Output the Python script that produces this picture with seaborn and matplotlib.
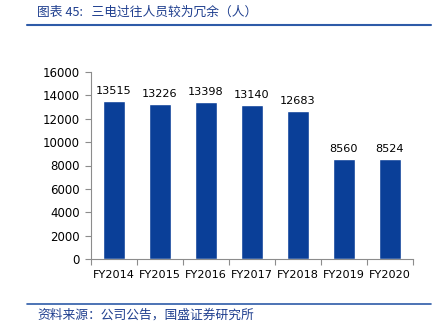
import matplotlib
matplotlib.use("Agg")
import matplotlib.pyplot as plt
import seaborn as sns
import pandas as pd
import numpy as np

years = ["FY2014", "FY2015", "FY2016", "FY2017", "FY2018", "FY2019", "FY2020"]
staff = [13515, 13226, 13398, 13140, 12683, 8560, 8524]
yticks = [0, 2000, 4000, 6000, 8000, 10000, 12000, 14000, 16000]

title_text = "图表 45:   三电过往人员较为冗余（人）"
source_text = "资料来源：公司公告，国盛证券研究所"

sns.set_theme(style="white")
plt.rcParams["font.family"] = ["DejaVu Sans", "Noto Sans CJK SC"]

bar_color = "#0A3F98"
text_blue = "#1F3F8F"

df = pd.DataFrame({"year": years, "staff": staff})

fig = plt.figure(figsize=(4.38, 3.25), dpi=100)
ax = fig.add_axes([91 / 438, 1 - 259 / 325, (413 - 91) / 438, (259 - 72) / 325])

sns.barplot(data=df, x="year", y="staff", color=bar_color, saturation=1,
            width=0.48, ax=ax)

ax.set_ylim(0, 16000)
ax.set_xlim(-0.5, len(years) - 0.5)
ax.set_yticks(yticks)
ax.set_yticklabels([str(v) for v in yticks])
ax.set_xlabel("")
ax.set_ylabel("")

for spine in ["top", "right"]:
    ax.spines[spine].set_visible(False)
for spine in ["left", "bottom"]:
    ax.spines[spine].set_color("#8C8C8C")
    ax.spines[spine].set_linewidth(0.8)

ax.tick_params(axis="y", which="major", left=True, length=4, width=0.8,
               color="#8C8C8C", labelsize=8.5, pad=4, labelcolor="black")
ax.tick_params(axis="x", which="major", bottom=False, labelsize=8.1, pad=2,
               labelcolor="black")
ax.set_xticks(np.arange(-0.5, len(years) + 0.5, 1), minor=True)
ax.tick_params(axis="x", which="minor", bottom=True, length=4, width=0.8,
               color="#8C8C8C")

for i, v in enumerate(staff):
    ax.text(i, v + 450, str(v), ha="center", va="bottom", fontsize=8.1,
            color="black")

# header and footer rules with captions
fig.text(37 / 438, 1 - 12 / 325, title_text, ha="left", va="center",
         fontsize=9.2, color=text_blue, style="italic",
         family=["Noto Sans CJK SC", "DejaVu Sans"])
fig.add_artist(plt.Line2D([27 / 438, 431 / 438], [1 - 25 / 325, 1 - 25 / 325],
                          color="#2E5BA8", linewidth=1.5))
fig.add_artist(plt.Line2D([27 / 438, 431 / 438], [1 - 304 / 325, 1 - 304 / 325],
                          color="#2E5BA8", linewidth=1.2))
fig.text(37 / 438, 1 - 315 / 325, source_text, ha="left", va="center",
         fontsize=9.2, color=text_blue, style="italic",
         family=["Noto Sans CJK SC", "DejaVu Sans"])

fig.savefig("out.png", dpi=100)
